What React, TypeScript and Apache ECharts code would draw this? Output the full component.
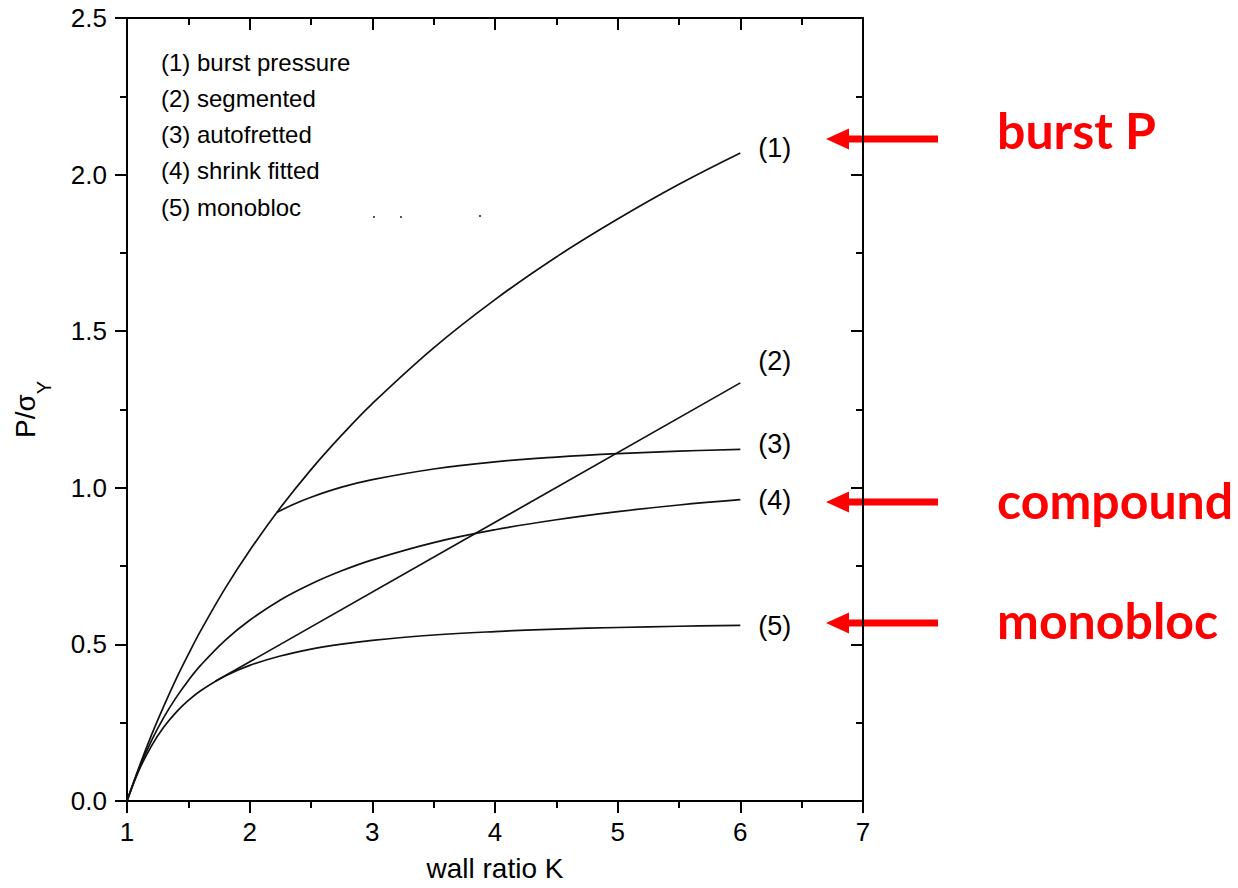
import React, { useEffect, useRef } from "react";
import * as echarts from "echarts";

// Wall ratio K sample positions
const kBase = [1, 1.1, 1.2, 1.3, 1.4, 1.5, 1.6, 1.8, 2.0, 2.25, 2.5, 2.75, 3, 3.5, 4, 4.5, 5, 5.5, 6];
// (1) burst pressure
const burst = [0, 0.110, 0.211, 0.303, 0.389, 0.468, 0.543, 0.679, 0.800, 0.936, 1.058, 1.168, 1.269, 1.447, 1.601, 1.737, 1.858, 1.969, 2.069];
// (4) shrink fitted
const shrink = [0, 0.105, 0.193, 0.267, 0.330, 0.385, 0.433, 0.513, 0.577, 0.642, 0.693, 0.735, 0.770, 0.825, 0.866, 0.898, 0.924, 0.945, 0.962];
// (5) monobloc
const mono = [0, 0.100, 0.176, 0.236, 0.283, 0.321, 0.352, 0.399, 0.433, 0.463, 0.485, 0.501, 0.513, 0.530, 0.541, 0.549, 0.554, 0.558, 0.561];
// (3) autofretted (branches off burst curve)
const autoK = [2.22, 2.35, 2.5, 2.75, 3, 3.5, 4, 4.5, 5, 5.5, 6];
const autofretted = [0.921, 0.946, 0.970, 1.002, 1.026, 1.060, 1.083, 1.098, 1.109, 1.117, 1.123];
// (2) segmented (straight part, tangent to monobloc)
const segK = [1.72, 6];
const segmented = [0.382, 1.335];

const seriesLabels = ["(1)", "(2)", "(3)", "(4)", "(5)"];
const legendLines = ["(1) burst pressure", "(2) segmented", "(3) autofretted", "(4) shrink fitted", "(5) monobloc"];
const callouts = ["burst P", "compound", "monobloc"];

const xTicks = { min: 1, max: 7, interval: 1 };
const yTicks = { min: 0, max: 2.5, interval: 0.5 };

const zip = (xs: number[], ys: number[]) => xs.map((x, i) => [x, ys[i]]);

const FONT = "'Liberation Sans', Arial, sans-serif";

export default function App() {
  const ref = useRef<HTMLDivElement>(null);
  useEffect(() => {
    if (!ref.current) return;
    const chart = echarts.init(ref.current, undefined, { renderer: "svg" });
    const axisCommon = {
      type: "value" as const,
      axisLine: { show: true, onZero: false, lineStyle: { color: "#000", width: 2 } },
      axisTick: { show: true, length: 12, lineStyle: { color: "#000", width: 2 } },
      minorTick: { show: true, splitNumber: 2, length: 7, lineStyle: { color: "#000", width: 2 } },
      splitLine: { show: false },
      minorSplitLine: { show: false },
    };
    const lineStyle = { color: "#111", width: 1.7 };
    const mkSeries = (data: number[][], label: string, offset: number[]) => ({
      type: "line",
      data,
      symbol: "none",
      smooth: 0.4,
      lineStyle,
      silent: true,
      endLabel: {
        show: true,
        formatter: label,
        fontSize: 27,
        fontFamily: FONT,
        color: "#000",
        distance: 18,
        offset,
      },
    });

    const arrowY = [139, 502, 623];
    const textY = [130, 500, 620];
    const graphics: any[] = [];
    legendLines.forEach((t, i) => {
      graphics.push({
        type: "text",
        x: 161,
        y: 62 + i * 36.3,
        style: { text: t, fontSize: 24, fontFamily: FONT, fill: "#000", verticalAlign: "middle", align: "left" },
      });
    });
    arrowY.forEach((c) => {
      graphics.push({
        type: "polygon",
        shape: {
          points: [
            [826, c],
            [849, c - 10.5],
            [849, c - 3.5],
            [938, c - 3.5],
            [938, c + 3.5],
            [849, c + 3.5],
            [849, c + 10.5],
          ],
        },
        style: { fill: "#ff0000" },
      });
    });
    callouts.forEach((t, i) => {
      graphics.push({
        type: "text",
        x: 997,
        y: textY[i],
        style: { text: t, fontSize: 50, fontWeight: "bold", fontFamily: "Lato, 'Open Sans', sans-serif", fill: "#ff0000", verticalAlign: "middle", align: "left" },
      });
    });
    [[373, 216], [400, 216], [479, 215]].forEach(([x, y]) => {
      graphics.push({ type: "rect", shape: { x, y, width: 2, height: 2 }, style: { fill: "#555" } });
    });

    chart.setOption({
      animation: false,
      backgroundColor: "#fff",
      grid: { left: 127, top: 18, width: 736, height: 783, containLabel: false, outerBoundsMode: "none" },
      xAxis: [
        {
          ...axisCommon,
          ...xTicks,
          position: "bottom",
          axisLabel: { fontSize: 26, color: "#000", margin: 18, fontFamily: FONT },
          name: "wall ratio K",
          nameLocation: "middle",
          nameGap: 53,
          nameTextStyle: { fontSize: 28, color: "#000", fontFamily: FONT },
        },
        {
          ...axisCommon,
          ...xTicks,
          position: "top",
          axisTick: { ...axisCommon.axisTick, inside: true },
          axisLabel: { show: false },
        },
      ],
      yAxis: [
        {
          ...axisCommon,
          ...yTicks,
          position: "left",
          axisLabel: {
            fontSize: 26,
            color: "#000",
            margin: 20,
            fontFamily: FONT,
            formatter: (v: number) => v.toFixed(1),
          },
          name: "{a|P/σ}{b|Y}",
          nameLocation: "middle",
          nameGap: 73,
          nameRotate: 90,
          nameTextStyle: {
            color: "#000",
            fontFamily: FONT,
            rich: {
              a: { fontSize: 28, fontFamily: FONT, color: "#000", verticalAlign: "top", lineHeight: 30 },
              b: { fontSize: 20, fontFamily: FONT, color: "#000", verticalAlign: "top", padding: [23, 0, 0, 0] },
            },
          },
        },
        {
          ...axisCommon,
          ...yTicks,
          position: "right",
          axisTick: { ...axisCommon.axisTick, inside: true },
          axisLabel: { show: false },
        },
      ],
      series: [
        mkSeries(zip(kBase, burst), seriesLabels[0], [0, -5]),
        mkSeries(zip(segK, segmented), seriesLabels[1], [0, -22]),
        mkSeries(zip(autoK, autofretted), seriesLabels[2], [0, -5]),
        mkSeries(zip(kBase, shrink), seriesLabels[3], [0, 0]),
        mkSeries(zip(kBase, mono), seriesLabels[4], [0, 1]),
      ],
      graphic: graphics,
    });
    return () => chart.dispose();
  }, []);
  return <div ref={ref} style={{ width: 1238, height: 888, position: "absolute", left: 0, top: 0 }} />;
}
